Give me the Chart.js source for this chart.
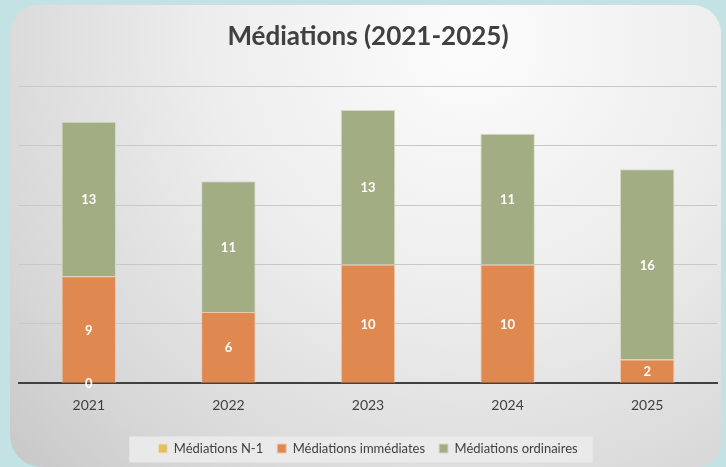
<!DOCTYPE html>
<html>
<head>
<meta charset="utf-8">
<script src="https://cdn.jsdelivr.net/npm/chart.js@4.4.1/dist/chart.umd.min.js"></script>
<style>
  html, body { margin: 0; padding: 0; background: #c3e2e4; }
  canvas { display: block; }
</style>
</head>
<body>
<canvas id="mediationsChart" width="726" height="467"></canvas>
<script>
// ===== DONNÉES =====
const annees = ['2021', '2022', '2023', '2024', '2025'];
const mediationsN1 = [0, null, null, null, null];
const mediationsImmediates = [9, 6, 10, 10, 2];
const mediationsOrdinaires = [13, 11, 13, 11, 16];
const graduationsY = [0, 5, 10, 15, 20, 25];

const TEXTE = '#404040';
const POLICE = 'Lato, "Open Sans", sans-serif';

// fond turquoise + carte grise en dégradé
const fondCarte = {
    id: 'fondCarte',
    beforeDraw(chart) {
        const ctx = chart.ctx;
        ctx.save();
        ctx.fillStyle = '#c3e2e4';
        ctx.fillRect(0, 0, chart.width, chart.height);
        const g = ctx.createRadialGradient(470, 40, 20, 470, 40, 720);
        g.addColorStop(0, '#fbfbfb');
        g.addColorStop(0.35, '#ededed');
        g.addColorStop(0.7, '#d6d6d6');
        g.addColorStop(1, '#bcbcbc');
        ctx.fillStyle = g;
        ctx.beginPath();
        ctx.roundRect(10, 5, 711, 462, [28, 28, 22, 32]);
        ctx.fill();

        // fond de la légende
        const boxes = chart.legend.legendHitBoxes;
        if (boxes && boxes.length) {
            const gauche = Math.min(...boxes.map(b => b.left)) - 29;
            const droite = Math.max(...boxes.map(b => b.left + b.width)) + 15;
            const centre = boxes[0].top + boxes[0].height / 2;
            ctx.fillStyle = 'rgba(236,236,236,0.85)';
            ctx.fillRect(gauche, centre - 12, droite - gauche, 26);
        }
        ctx.restore();
    }
};

// étiquettes blanches au milieu des segments
const etiquettes = {
    id: 'etiquettes',
    afterDatasetsDraw(chart) {
        const ctx = chart.ctx;
        ctx.save();
        ctx.fillStyle = '#ffffff';
        ctx.font = 'bold 13px ' + POLICE;
        ctx.textAlign = 'center';
        ctx.textBaseline = 'middle';
        chart.data.datasets.forEach((ds, i) => {
            const meta = chart.getDatasetMeta(i);
            meta.data.forEach((bar, j) => {
                const v = ds.data[j];
                if (v === null || v === undefined) return;
                const p = bar.getProps(['x', 'y', 'base'], true);
                ctx.fillText(String(v), p.x, (p.y + p.base) / 2 + 1);
            });
        });
        ctx.restore();
    }
};

const ctx = document.getElementById('mediationsChart').getContext('2d');

new Chart(ctx, {
    type: 'bar',
    data: {
        labels: annees,
        datasets: [
            { label: 'Médiations N-1', data: mediationsN1, backgroundColor: '#e3bf5e', borderColor: '#efe3c0', borderWidth: 1 },
            { label: 'Médiations immédiates', data: mediationsImmediates, backgroundColor: '#df8850', borderColor: '#eec8ad', borderWidth: 1 },
            { label: 'Médiations ordinaires', data: mediationsOrdinaires, backgroundColor: '#a2ad84', borderColor: '#d5dac7', borderWidth: 1 }
        ]
    },
    options: {
        responsive: false,
        animation: false,
        devicePixelRatio: 1,
        layout: { padding: { top: 0, left: 19, right: 9, bottom: 2 } },
        datasets: { bar: { categoryPercentage: 1, barPercentage: 0.39 } },
        plugins: {
            title: {
                display: true,
                text: 'Médiations (2021-2025)',
                color: TEXTE,
                font: { family: POLICE, size: 26, weight: 'bold' },
                padding: { top: 21, bottom: 34 }
            },
            legend: {
                position: 'bottom',
                labels: {
                    color: TEXTE,
                    font: { family: POLICE, size: 13 },
                    boxWidth: 9,
                    boxHeight: 9,
                    padding: 14
                }
            },
            tooltip: { enabled: false }
        },
        scales: {
            x: {
                stacked: true,
                z: 1,
                grid: { display: false, drawTicks: false },
                border: { color: TEXTE, width: 2 },
                ticks: { color: TEXTE, font: { family: POLICE, size: 14 }, padding: 14 }
            },
            y: {
                stacked: true,
                min: graduationsY[0],
                max: graduationsY[graduationsY.length - 1],
                afterBuildTicks(scale) {
                    scale.ticks = graduationsY.map(v => ({ value: v }));
                },
                grid: { color: '#c8c8c8', lineWidth: 1, drawTicks: false },
                border: { display: false },
                ticks: { display: false }
            }
        }
    },
    plugins: [fondCarte, etiquettes]
});
</script>
</body>
</html>
